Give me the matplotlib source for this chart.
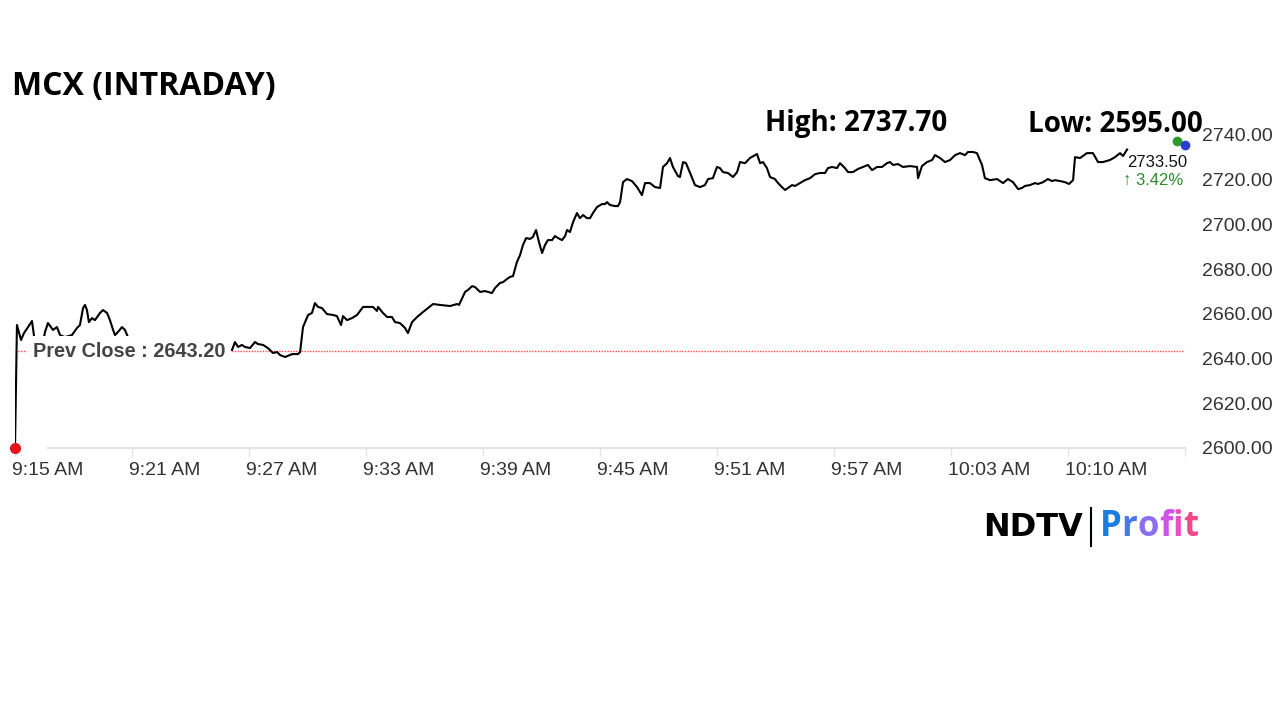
import matplotlib.pyplot as plt
from matplotlib.lines import Line2D
from matplotlib.transforms import ScaledTranslation

# minutes after 9:15 AM
minutes = [0.00, 0.10, 0.31, 0.46, 0.67, 0.87, 0.97, 1.18, 1.54, 1.69, 1.95, 2.15, 2.31, 2.56,
           2.92, 3.18, 3.33, 3.49, 3.59, 3.69, 3.79, 3.95, 4.10, 4.36, 4.51, 4.72, 4.87, 5.03,
           5.13, 5.28, 5.49, 5.64, 5.79, 5.90, 6.92, 8.21, 9.49, 10.77,
           11.13, 11.28, 11.44, 11.64, 11.79, 12.05, 12.31, 12.46, 12.72, 12.97, 13.23, 13.44,
           13.59, 13.85, 14.21, 14.51, 14.62, 14.77, 15.03, 15.23, 15.38, 15.54, 15.74, 16.00,
           16.31, 16.51, 16.72, 16.82, 17.03, 17.28, 17.54, 17.85, 18.10, 18.36, 18.56, 18.62,
           18.87, 19.08, 19.33, 19.49, 19.74, 20.00, 20.15, 20.36, 20.62, 20.92, 21.18, 21.44,
           21.79, 22.31, 22.67, 22.77, 23.08, 23.23, 23.44, 23.59, 23.85, 24.10, 24.26, 24.46,
           24.62, 24.87, 25.03, 25.23, 25.38, 25.54, 25.74, 25.90, 26.05, 26.21, 26.41, 26.56,
           26.72, 26.87, 27.03, 27.18, 27.33, 27.54, 27.69, 27.85, 28.05, 28.21, 28.31, 28.46,
           28.62, 28.82, 28.97, 29.13, 29.33, 29.49, 29.64, 29.85, 30.10, 30.26, 30.36, 30.51,
           30.77, 30.92, 31.03, 31.18, 31.38, 31.64, 31.90, 32.15, 32.31, 32.56, 32.82, 33.08,
           33.23, 33.44, 33.59, 33.74, 34.00, 34.10, 34.26, 34.41, 34.62, 34.87, 35.13, 35.38,
           35.54, 35.79, 36.00, 36.15, 36.31, 36.56, 36.82, 37.03, 37.18, 37.44, 37.69, 38.05,
           38.21, 38.36, 38.56, 38.72, 38.97, 39.13, 39.33, 39.49, 39.64, 39.85, 40.00, 40.26,
           40.51, 40.77, 41.03, 41.28, 41.54, 41.69, 41.90, 42.15, 42.31, 42.56, 42.72, 42.97,
           43.23, 43.49, 43.74, 43.95, 44.21, 44.46, 44.72, 44.87, 45.03, 45.28, 45.54, 45.90,
           46.26, 46.31, 46.51, 46.77, 47.03, 47.18, 47.44, 47.69, 47.95, 48.21, 48.46, 48.72,
           48.87, 49.13, 49.33, 49.59, 49.74, 50.00, 50.36, 50.67, 50.92, 51.18, 51.44, 51.64,
           51.79, 52.05, 52.31, 52.46, 52.72, 52.97, 53.18, 53.33, 53.59, 53.85, 54.05, 54.26,
           54.36, 54.62, 54.97, 55.28, 55.54, 55.79, 56.15, 56.41, 56.67, 56.82, 57.03]

prices = [2600.0, 2655.0, 2648.3, 2651.4, 2654.1, 2656.8, 2650.5, 2636.7, 2651.9, 2655.9, 2652.8,
          2654.1, 2650.5, 2649.6, 2650.5, 2653.7, 2655.0, 2662.6, 2664.0, 2661.7, 2656.3, 2658.1,
          2657.2, 2660.4, 2661.7, 2660.4, 2657.2, 2652.8, 2650.5, 2651.9, 2654.1, 2652.8, 2649.6,
          2649.2, 2646.1, 2643.8, 2645.6, 2644.7,
          2643.8, 2647.4, 2645.2, 2646.1, 2645.2, 2644.7, 2647.4, 2646.5, 2646.1, 2644.7, 2642.5,
          2642.9, 2641.6, 2640.7, 2642.0, 2642.0, 2642.9, 2654.1, 2659.5, 2660.4, 2664.8, 2663.1,
          2662.6, 2659.9, 2659.5, 2659.0, 2655.0, 2659.0, 2657.2, 2658.1, 2659.5, 2663.1, 2663.1,
          2663.1, 2661.3, 2663.1, 2660.4, 2658.6, 2658.6, 2656.3, 2655.9, 2653.7, 2651.4, 2656.3,
          2658.6, 2660.8, 2662.6, 2664.4, 2664.0, 2663.5, 2664.4, 2664.0, 2669.8, 2670.7, 2672.4,
          2672.0, 2669.8, 2670.2, 2669.8, 2669.3, 2671.6, 2673.8, 2674.2, 2675.6, 2676.5, 2676.9,
          2683.2, 2686.3, 2690.8, 2693.9, 2693.5, 2694.4, 2697.5, 2692.1, 2687.2, 2690.8, 2693.0,
          2693.0, 2694.8, 2693.9, 2693.0, 2694.8, 2697.5, 2696.6, 2701.1, 2705.1, 2702.8, 2704.2,
          2702.8, 2702.8, 2705.1, 2707.8, 2709.1, 2709.1, 2710.0, 2708.7, 2708.2, 2708.2, 2710.0,
          2718.9, 2720.3, 2719.4, 2716.7, 2713.1, 2718.5, 2718.5, 2716.7, 2716.3, 2725.7, 2727.4,
          2729.7, 2725.7, 2721.6, 2721.2, 2727.9, 2727.4, 2723.0, 2717.6, 2716.7, 2717.6, 2720.3,
          2720.7, 2725.7, 2725.2, 2723.4, 2723.0, 2721.2, 2723.4, 2727.9, 2727.4, 2729.7, 2731.5,
          2727.4, 2727.9, 2725.2, 2721.2, 2720.3, 2718.5, 2716.7, 2715.4, 2716.3, 2717.6, 2717.2,
          2718.5, 2719.8, 2720.7, 2722.5, 2723.0, 2723.0, 2725.2, 2725.7, 2725.2, 2727.4, 2725.2,
          2723.4, 2723.4, 2724.8, 2725.7, 2726.6, 2724.3, 2725.7, 2725.7, 2727.4, 2727.9, 2726.6,
          2727.0, 2725.7, 2726.1, 2725.7, 2720.7, 2726.1, 2727.9, 2728.8, 2731.0, 2729.7, 2727.9,
          2728.8, 2731.0, 2731.9, 2731.0, 2732.4, 2732.4, 2731.9, 2726.6, 2720.7, 2719.8, 2720.3,
          2718.5, 2720.3, 2718.9, 2715.8, 2716.3, 2717.2, 2717.6, 2718.5, 2718.1, 2718.9, 2720.3,
          2719.4, 2719.8, 2719.4, 2718.9, 2718.1, 2719.8, 2730.1, 2729.7, 2731.9, 2731.9, 2727.9,
          2727.9, 2728.8, 2730.1, 2731.9, 2730.6, 2733.5]

prev_close = 2643.20
day_high = 2737.70
day_low = 2595.00
last_price = 2733.50
change_pct = 3.42

tick_minutes = [0, 6, 12, 18, 24, 30, 36, 42, 48, 54, 60]
tick_labels = ['9:15 AM', '9:21 AM', '9:27 AM', '9:33 AM', '9:39 AM', '9:45 AM',
               '9:51 AM', '9:57 AM', '10:03 AM', '10:10 AM', '']
y_ticks = [2600, 2620, 2640, 2660, 2680, 2700, 2720, 2740]

head_font = ['Open Sans', 'DejaVu Sans']

fig = plt.figure(figsize=(12.8, 7.2), dpi=100)
fig.patch.set_facecolor('white')
ax = fig.add_axes([15 / 1280, 1 - 448 / 720, 1170 / 1280, 313 / 720])

ax.plot(minutes, prices, color='black', lw=1.5, zorder=3, solid_joinstyle='round')
ax.plot(minutes[0], prices[0], 'o', color='#e8141b', ms=7, zorder=5, clip_on=False)
ax.axhline(prev_close, color='#ff2020', lw=1.0, ls=(0, (1, 1)), alpha=0.8, zorder=2)

ax.text(0.92, prev_close, f'Prev Close : {prev_close:.2f}', fontsize=14.3, fontweight='bold',
        color='#444444', family='Liberation Sans', va='center', ha='left', zorder=4,
        bbox=dict(boxstyle='square,pad=0.3', fc='white', ec='none'))

ax.set_xlim(0, 60)
ax.set_ylim(2600, 2740)

for s in ['top', 'left', 'right']:
    ax.spines[s].set_visible(False)
ax.spines['bottom'].set_color('#e3e3e3')
ax.spines['bottom'].set_linewidth(1.5)
ax.spines['bottom'].set_bounds(1.7, 60)

ax.set_xticks(tick_minutes)
ax.set_xticklabels(tick_labels)
ax.tick_params(axis='x', length=6, color='#e3e3e3', width=1, pad=4,
               labelsize=14, labelcolor='#333333')
shift = ScaledTranslation(-3 / 100, 0, fig.dpi_scale_trans)
for lbl in ax.get_xticklabels():
    lbl.set_ha('left')
    lbl.set_family('Liberation Sans')
    lbl.set_transform(lbl.get_transform() + shift)

ax.yaxis.tick_right()
ax.set_yticks(y_ticks)
ax.set_yticklabels([f'{v:.2f}' for v in y_ticks])
ax.tick_params(axis='y', length=0, pad=12, labelsize=14, labelcolor='#333333')
for lbl in ax.get_yticklabels():
    lbl.set_family('Liberation Sans')

# last price annotations
ax.annotate(f'{last_price:.2f}', xy=(minutes[-1], prices[-1]), xytext=(0, -9),
            textcoords='offset points', fontsize=12, color='#111111',
            family='Liberation Sans', ha='left', va='center', zorder=6)
ax.annotate(f'\u2191 {change_pct:.2f}%', xy=(minutes[-1], prices[-1]), xytext=(-3, -22),
            textcoords='offset points', fontsize=12, color='#2a8a2a',
            family=['Liberation Sans', 'DejaVu Sans'], ha='left', va='center', zorder=6)
for dx, dy, c in [(36, 6, '#2e9a2e'), (42, 3, '#2a3fd0')]:
    off = ScaledTranslation(dx / 72, dy / 72, fig.dpi_scale_trans)
    ax.plot(minutes[-1], prices[-1], 'o', color=c, ms=6, clip_on=False, zorder=6,
            transform=ax.transData + off)

# headings
fig.text(12 / 1280, 1 - 86 / 720, 'MCX (INTRADAY)', fontsize=23, fontweight='bold',
         family=head_font, color='black', va='center', ha='left')
fig.text(765 / 1280, 1 - 124 / 720, f'High: {day_high:.2f}', fontsize=20, fontweight='bold',
         family=head_font, color='black', va='center', ha='left')
fig.text(1028 / 1280, 1 - 124 / 720, f'Low: {day_low:.2f}', fontsize=20, fontweight='bold',
         family=head_font, color='black', va='center', ha='left')

# logo
fig.text(983 / 1280, 1 - 528 / 720, 'NDTV', fontsize=23, fontweight='heavy',
         family='DejaVu Sans', color='black', va='center', ha='left')
fig.add_artist(Line2D([1091 / 1280, 1091 / 1280], [1 - 508 / 720, 1 - 546 / 720],
                      color='black', lw=1.5))
profit_colors = ['#1a7ee0', '#4a78e8', '#8c6ef0', '#d052e6', '#ea4fbf', '#ee4a8a']
prev = ax.annotate('P', xy=(1100 / 1280, 1 - 545 / 720), xycoords='figure fraction',
                   fontsize=25, fontweight='bold', family=head_font, color=profit_colors[0],
                   va='bottom', ha='left', annotation_clip=False)
for ch, c in zip('rofit', profit_colors[1:]):
    prev = ax.annotate(ch, xy=(1, 0), xycoords=prev, fontsize=25, fontweight='bold',
                       family=head_font, color=c, va='bottom', ha='left',
                       annotation_clip=False)

plt.savefig('out.png', dpi=100, facecolor='white')
